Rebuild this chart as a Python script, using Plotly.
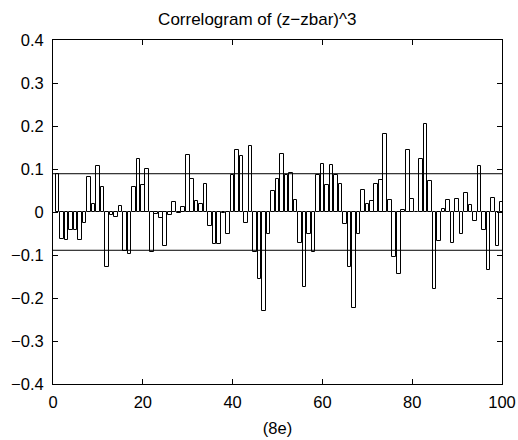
import plotly.graph_objects as go

lags = list(range(1, 101))
acf = [
    0.088, -0.063, -0.065, -0.042, -0.041, -0.065, -0.025, 0.082, 0.018, 0.106,
    0.059, -0.129, -0.006, -0.012, 0.013, -0.090, -0.098, 0.058, 0.123, 0.063,
    0.101, -0.094, -0.005, -0.015, -0.078, -0.006, 0.023, -0.002, 0.012, 0.132,
    0.077, 0.026, 0.019, 0.065, -0.033, -0.075, -0.075, -0.003, -0.052, 0.085,
    0.144, 0.131, -0.025, 0.154, -0.094, -0.156, -0.231, -0.052, 0.049, 0.077,
    0.134, 0.087, 0.090, 0.027, -0.072, -0.175, -0.052, -0.094, 0.085, 0.112,
    0.062, 0.110, 0.085, 0.064, -0.029, -0.128, -0.223, -0.052, 0.052, 0.019,
    0.025, 0.065, 0.075, 0.182, 0.029, -0.104, -0.145, 0.004, 0.144, 0.031,
    0.001, 0.123, 0.205, 0.071, -0.178, -0.067, 0.006, 0.027, -0.072, 0.031,
    -0.052, 0.045, 0.017, -0.022, 0.106, -0.042, -0.135, 0.033, -0.078, 0.024,
]
conf_bounds = [0.089, -0.089]
x_span = [0, 100]
y_ticks = [-0.4, -0.3, -0.2, -0.1, 0, 0.1, 0.2, 0.3, 0.4]
x_ticks = [0, 20, 40, 60, 80, 100]

FONT = "Liberation Sans, Arial, Helvetica, sans-serif"

fig = go.Figure()
fig.add_trace(go.Bar(
    x=lags, y=acf, width=0.8,
    marker=dict(color="white", line=dict(color="black", width=1)),
    showlegend=False, hoverinfo="x+y",
))
for b in conf_bounds:
    fig.add_trace(go.Scatter(
        x=x_span, y=[b, b], mode="lines",
        line=dict(color="black", width=1), showlegend=False, hoverinfo="skip",
    ))

axis_common = dict(
    showgrid=False, zeroline=False, showline=True, linecolor="black",
    linewidth=1, mirror="ticks", ticks="inside", ticklen=5,
    tickcolor="black", tickwidth=1, automargin=False,
    tickfont=dict(family=FONT, size=16.5, color="black"),
)

fig.update_layout(
    width=518, height=440,
    margin=dict(l=53, r=16, t=40, b=56),
    paper_bgcolor="white", plot_bgcolor="white",
    bargap=0,
    title=dict(text="Correlogram of (z\u2212zbar)^3", x=0.455 * 449 / 518 + 53 / 518,
               xanchor="center", y=1 - 19 / 440, yanchor="middle",
               font=dict(family=FONT, size=17, color="black")),
    xaxis=dict(range=[0, 100], tickvals=x_ticks, ticklabelstandoff=3,
               title=dict(text="(8e)", standoff=12,
                          font=dict(family=FONT, size=16.5, color="black")),
               **axis_common),
    yaxis=dict(range=[-0.4, 0.4], tickvals=y_ticks, ticklabelstandoff=5,
               **axis_common),
)

fig.write_html("out.html")
